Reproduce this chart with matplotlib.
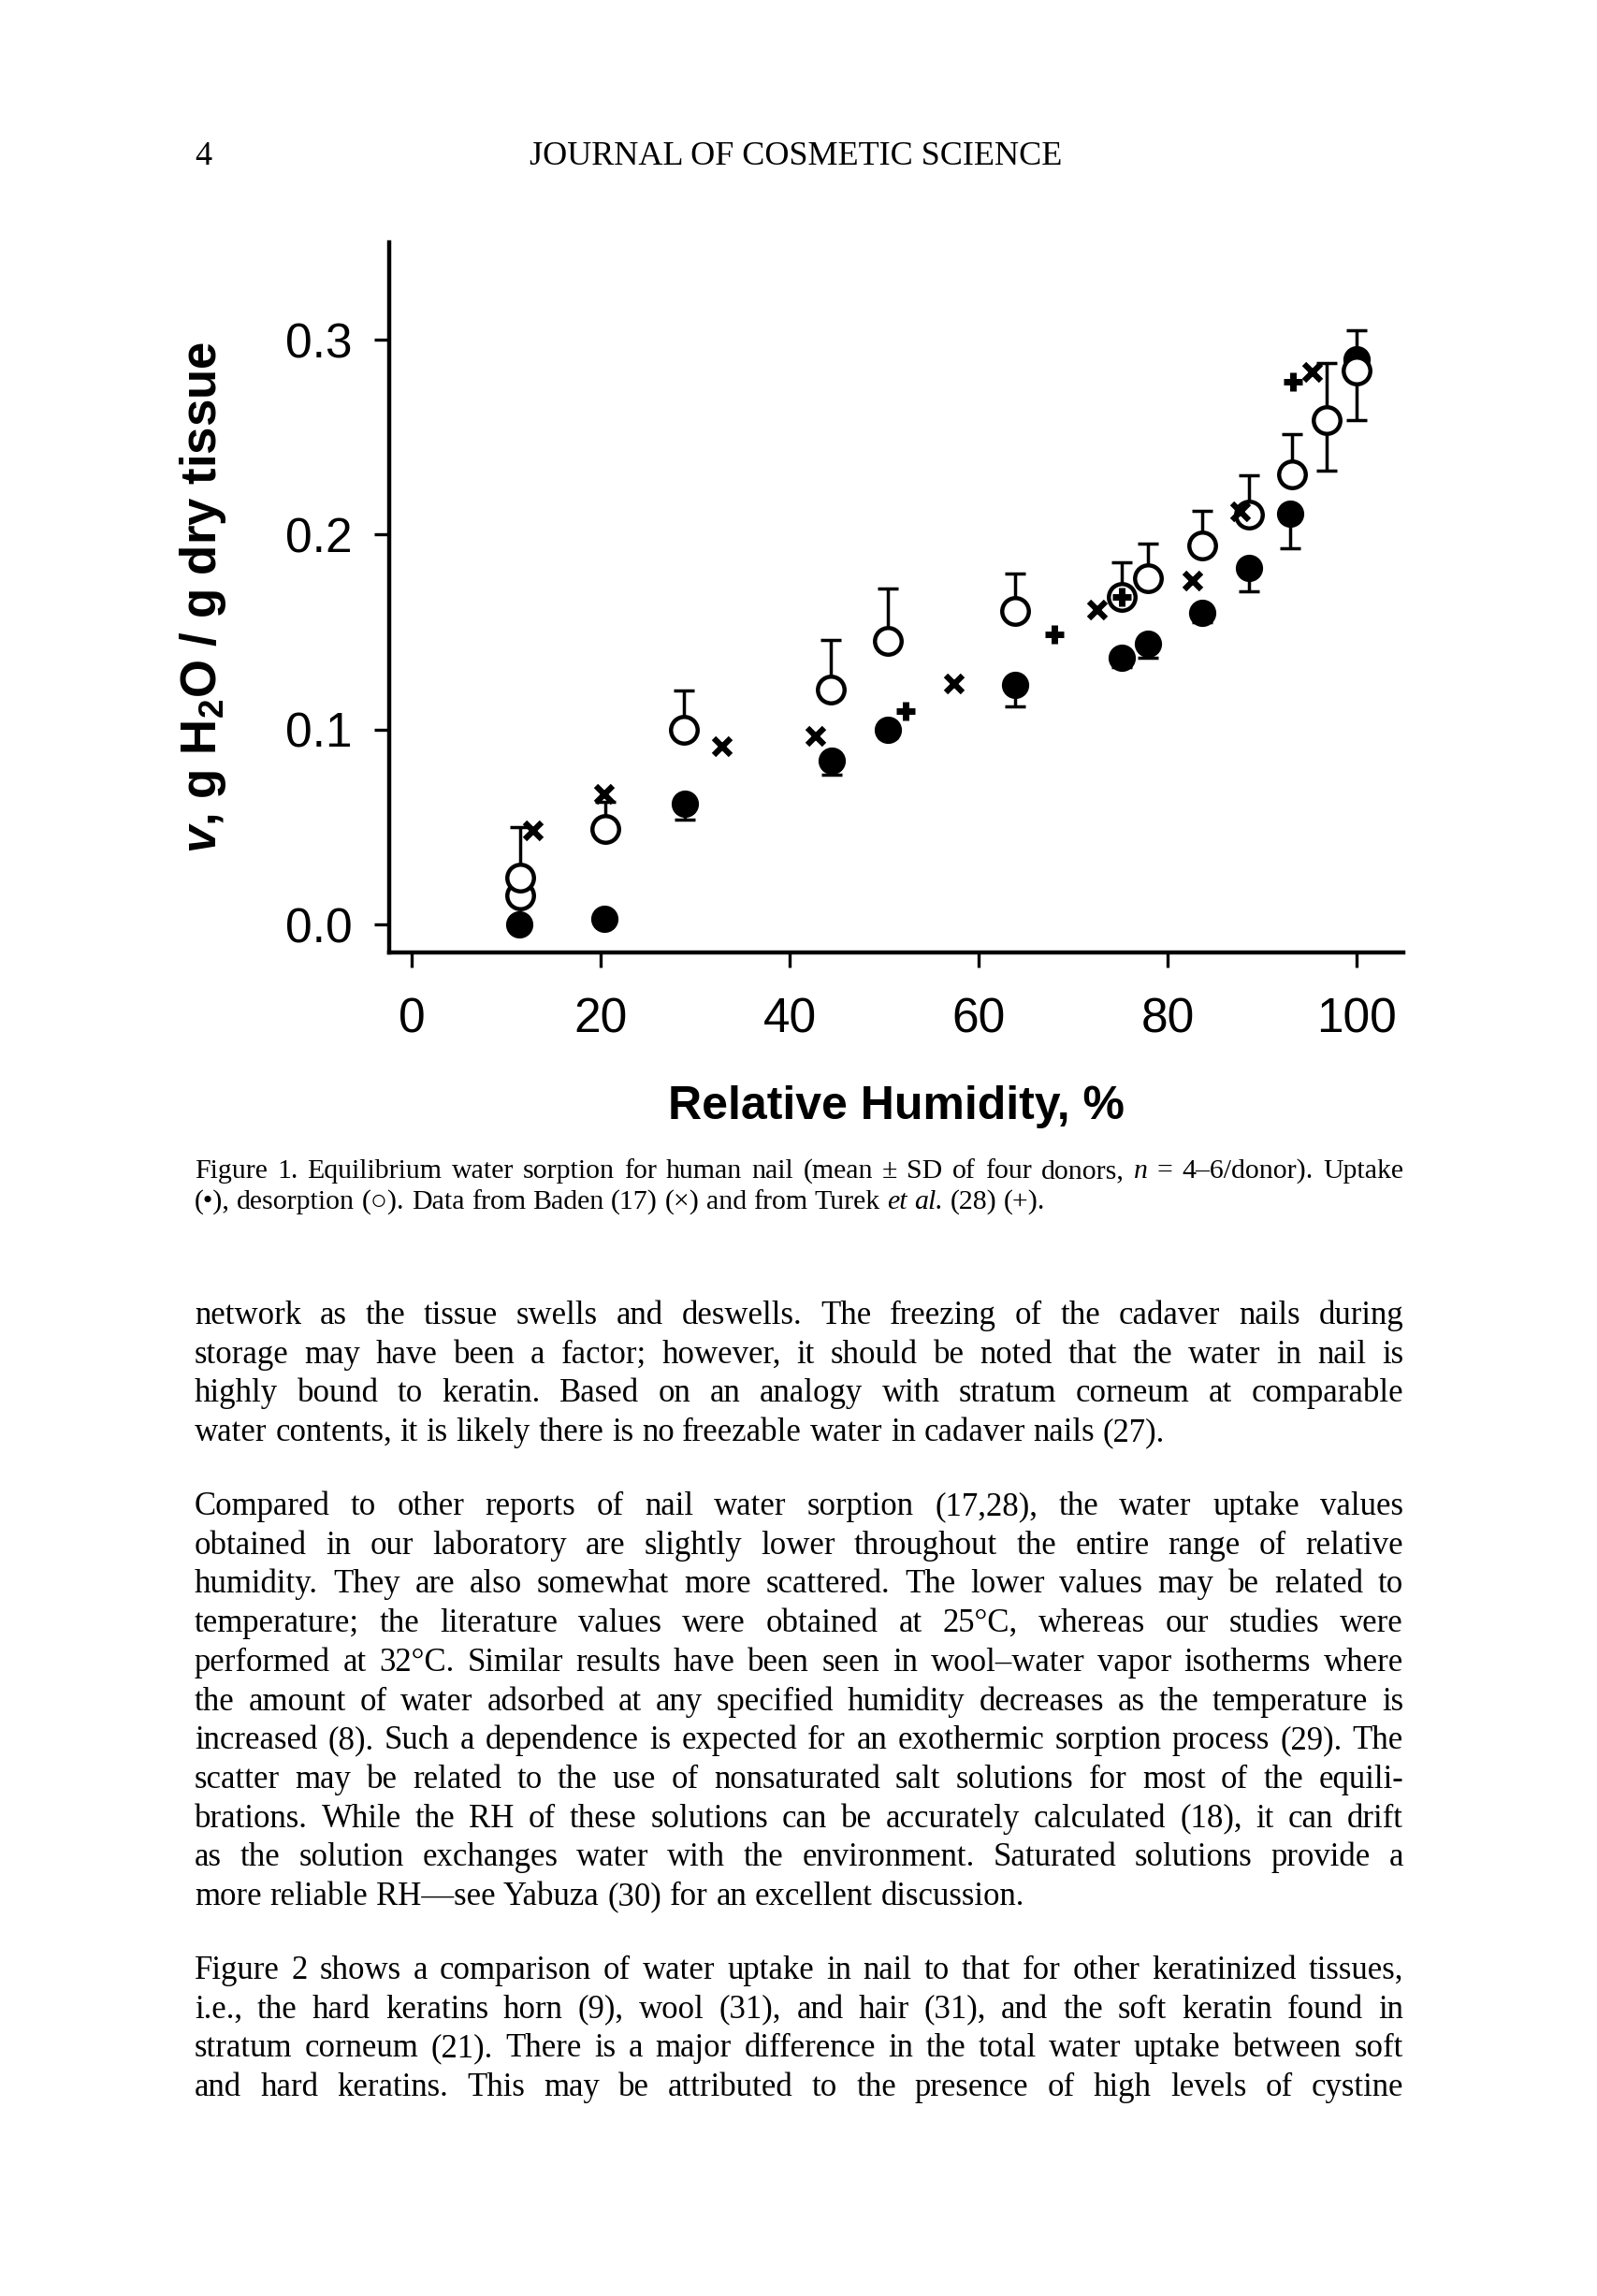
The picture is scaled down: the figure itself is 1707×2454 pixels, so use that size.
import matplotlib
matplotlib.use("Agg")
import matplotlib.pyplot as plt
from matplotlib.transforms import IdentityTransform

# ---------------------- PAGE ----------------------
W, H = 1708, 2454
DPI = 100
SERIF = ['Liberation Serif', 'DejaVu Serif', 'DejaVu Sans']

plt.rcParams['font.family'] = ['Liberation Sans', 'DejaVu Sans']
plt.rcParams['mathtext.fontset'] = 'custom'
plt.rcParams['mathtext.rm'] = 'Liberation Sans:bold'
plt.rcParams['mathtext.it'] = 'Liberation Sans:italic:bold'
plt.rcParams['mathtext.bf'] = 'Liberation Sans:bold'

# ---------------------- DATA ----------------------
# uptake (filled circles), SD drawn downwards
uptake_rh = [11.4, 20.4, 28.9, 44.4, 50.4, 63.8, 75.1, 77.9, 83.6, 88.6, 92.9, 100.0]
uptake_v = [0.000, 0.003, 0.062, 0.084, 0.100, 0.123, 0.137, 0.144, 0.160, 0.183, 0.211, 0.290]
uptake_sd = [0.0, 0.0, 0.008, 0.007, 0.004, 0.011, 0.005, 0.007, 0.005, 0.012, 0.018, 0.0]

# desorption (open circles), SD drawn upwards (two last points both ways)
desorp_rh = [11.5, 11.5, 20.5, 28.8, 44.3, 50.4, 63.8, 75.1, 77.9, 83.6, 88.6, 93.1, 96.8, 100.0]
desorp_v = [0.015, 0.024, 0.049, 0.100, 0.1205, 0.1456, 0.161, 0.168, 0.1776, 0.1946, 0.2103, 0.231, 0.259, 0.284]
desorp_sd_up = [0.0, 0.026, 0.014, 0.020, 0.0255, 0.027, 0.019, 0.018, 0.018, 0.0176, 0.020, 0.0205, 0.029, 0.021]
desorp_sd_dn = [0.0, 0.0, 0.0, 0.0, 0.0, 0.0, 0.0, 0.0, 0.0, 0.0, 0.0, 0.0, 0.026, 0.025]

# Baden (17) (x)
baden_rh = [12.8, 20.4, 32.8, 42.7, 57.4, 72.5, 82.6, 87.7, 95.3]
baden_v = [0.048, 0.0665, 0.091, 0.0966, 0.1236, 0.1613, 0.176, 0.2117, 0.2831]

# Turek et al. (28) (+)
turek_rh = [52.2, 68.0, 75.1, 93.2]
turek_v = [0.1095, 0.1486, 0.168, 0.2783]

x_ticks = [0, 20, 40, 60, 80, 100]
y_ticks = [0.0, 0.1, 0.2, 0.3]

# ---------------------- TEXT ----------------------
header_page = "4"
header_title = "JOURNAL OF COSMETIC SCIENCE"

caption_lines = [
    "Figure 1.  Equilibrium water sorption for human nail (mean \u00b1 SD of four donors, _n_ = 4\u20136/donor). Uptake",
    "(\u2022), desorption (\u25cb). Data from Baden (17) (\u00d7) and from Turek _et_ _al._ (28) (+).",
]

para1 = [
    "network as the tissue swells and deswells. The freezing of the cadaver nails during",
    "storage may have been a factor; however, it should be noted that the water in nail is",
    "highly bound to keratin. Based on an analogy with stratum corneum at comparable",
    "water contents, it is likely there is no freezable water in cadaver nails (27).",
]
para2 = [
    "Compared to other reports of nail water sorption (17,28), the water uptake values",
    "obtained in our laboratory are slightly lower throughout the entire range of relative",
    "humidity. They are also somewhat more scattered. The lower values may be related to",
    "temperature; the literature values were obtained at 25\u00b0C, whereas our studies were",
    "performed at 32\u00b0C. Similar results have been seen in wool\u2013water vapor isotherms where",
    "the amount of water adsorbed at any specified humidity decreases as the temperature is",
    "increased (8). Such a dependence is expected for an exothermic sorption process (29). The",
    "scatter may be related to the use of nonsaturated salt solutions for most of the equili-",
    "brations. While the RH of these solutions can be accurately calculated (18), it can drift",
    "as the solution exchanges water with the environment. Saturated solutions provide a",
    "more reliable RH\u2014see Yabuza (30) for an excellent discussion.",
]
# this paragraph runs on to the next page, so its last line is justified too
para3 = [
    "Figure 2 shows a comparison of water uptake in nail to that for other keratinized tissues,",
    "i.e., the hard keratins horn (9), wool (31), and hair (31), and the soft keratin found in",
    "stratum corneum (21). There is a major difference in the total water uptake between soft",
    "and hard keratins. This may be attributed to the presence of high levels of cystine",
]

# ---------------------- FIGURE ----------------------
fig = plt.figure(figsize=(W / DPI, H / DPI), dpi=DPI)
fig.patch.set_facecolor('white')

ax_l, ax_r, ax_t, ax_b = 416, 1500, 259, 1018
ax = fig.add_axes([ax_l / W, 1 - ax_b / H, (ax_r - ax_l) / W, (ax_b - ax_t) / H])

# uptake
ax.errorbar(uptake_rh, uptake_v, yerr=[uptake_sd, [0] * len(uptake_sd)], fmt='none',
            ecolor='black', elinewidth=2.5, capsize=8, capthick=2.5, zorder=1)
ax.plot(uptake_rh, uptake_v, 'o', ms=20, color='black', mec='black', zorder=2)

# desorption
ax.errorbar(desorp_rh, desorp_v, yerr=[desorp_sd_dn, desorp_sd_up], fmt='none',
            ecolor='black', elinewidth=2.5, capsize=8, capthick=2.5, zorder=3)
ax.plot(desorp_rh, desorp_v, 'o', ms=20.5, mfc='white', mec='black', mew=3.2, zorder=4)

# literature
ax.plot(baden_rh, baden_v, 'x', ms=12.5, mew=4.5, color='black', zorder=5)
ax.plot(turek_rh, turek_v, '+', ms=14, mew=5, color='black', zorder=6)

ax.set_xlim(-2.4, 104.9)
ax.set_ylim(-0.0144, 0.35)
ax.set_xticks(x_ticks)
ax.set_yticks(y_ticks)
ax.set_xticklabels([str(t) for t in x_ticks])
ax.set_yticklabels(["%.1f" % t for t in y_ticks])

for side in ['top', 'right']:
    ax.spines[side].set_visible(False)
for side in ['left', 'bottom']:
    ax.spines[side].set_linewidth(3.2)

ax.tick_params(axis='y', direction='out', length=11.5, width=2.4, pad=17, labelsize=37)
ax.tick_params(axis='x', direction='out', length=11.5, width=2.4, pad=23, labelsize=37)

ax.set_xlabel("Relative Humidity, %", fontsize=36, fontweight='bold')
ax.xaxis.label.set_va('baseline')
ax.xaxis.set_label_coords(0.5, (ax_b - 1196) / (ax_b - ax_t))

ax.set_ylabel(r"$\mathit{v}$, g H$_{2}$O / g dry tissue", fontsize=38, fontweight='bold')
ax.yaxis.set_label_coords((244 - ax_l) / (ax_r - ax_l), 0.5)

# ---------------------- PAGE TEXT ----------------------
renderer = fig.canvas.get_renderer()
TEXT_L, TEXT_R = 208, 1500


def draw_line(line, y_base, size, justify):
    items = []
    for w in line.split(' '):
        if w == '':
            continue
        style = 'normal'
        if len(w) > 2 and w.startswith('_') and w.endswith('_'):
            w, style = w[1:-1], 'italic'
        t = fig.text(0, 0, w, fontsize=size, family=SERIF, style=style,
                     ha='left', va='baseline', transform=IdentityTransform())
        items.append((t, t.get_window_extent(renderer).width))
    total = sum(wd for _, wd in items)
    space = 0.25 * size * DPI / 72
    if justify and len(items) > 1:
        space = (TEXT_R - TEXT_L - total) / (len(items) - 1)
    x = TEXT_L
    for t, wd in items:
        t.set_position((x, H - y_base))
        x += wd + space


def draw_paragraph(lines, y_first, step, size, last_justified=False):
    for i, line in enumerate(lines):
        justify = last_justified or i < len(lines) - 1
        draw_line(line, y_first + i * step, size, justify)


fig.text(208, H - 176, header_page, fontsize=26, family=SERIF, ha='left', va='baseline',
         transform=IdentityTransform())
fig.text(851, H - 176, header_title, fontsize=26, family=SERIF, ha='center', va='baseline',
         transform=IdentityTransform())

draw_paragraph(caption_lines, 1259, 33, 21.5)

BODY = 25
STEP = 41.7
draw_paragraph(para1, 1415, STEP, BODY)
draw_paragraph(para2, 1619, STEP, BODY)
draw_paragraph(para3, 2115, STEP, BODY, last_justified=True)

fig.savefig("out.png", dpi=DPI, facecolor='white')
